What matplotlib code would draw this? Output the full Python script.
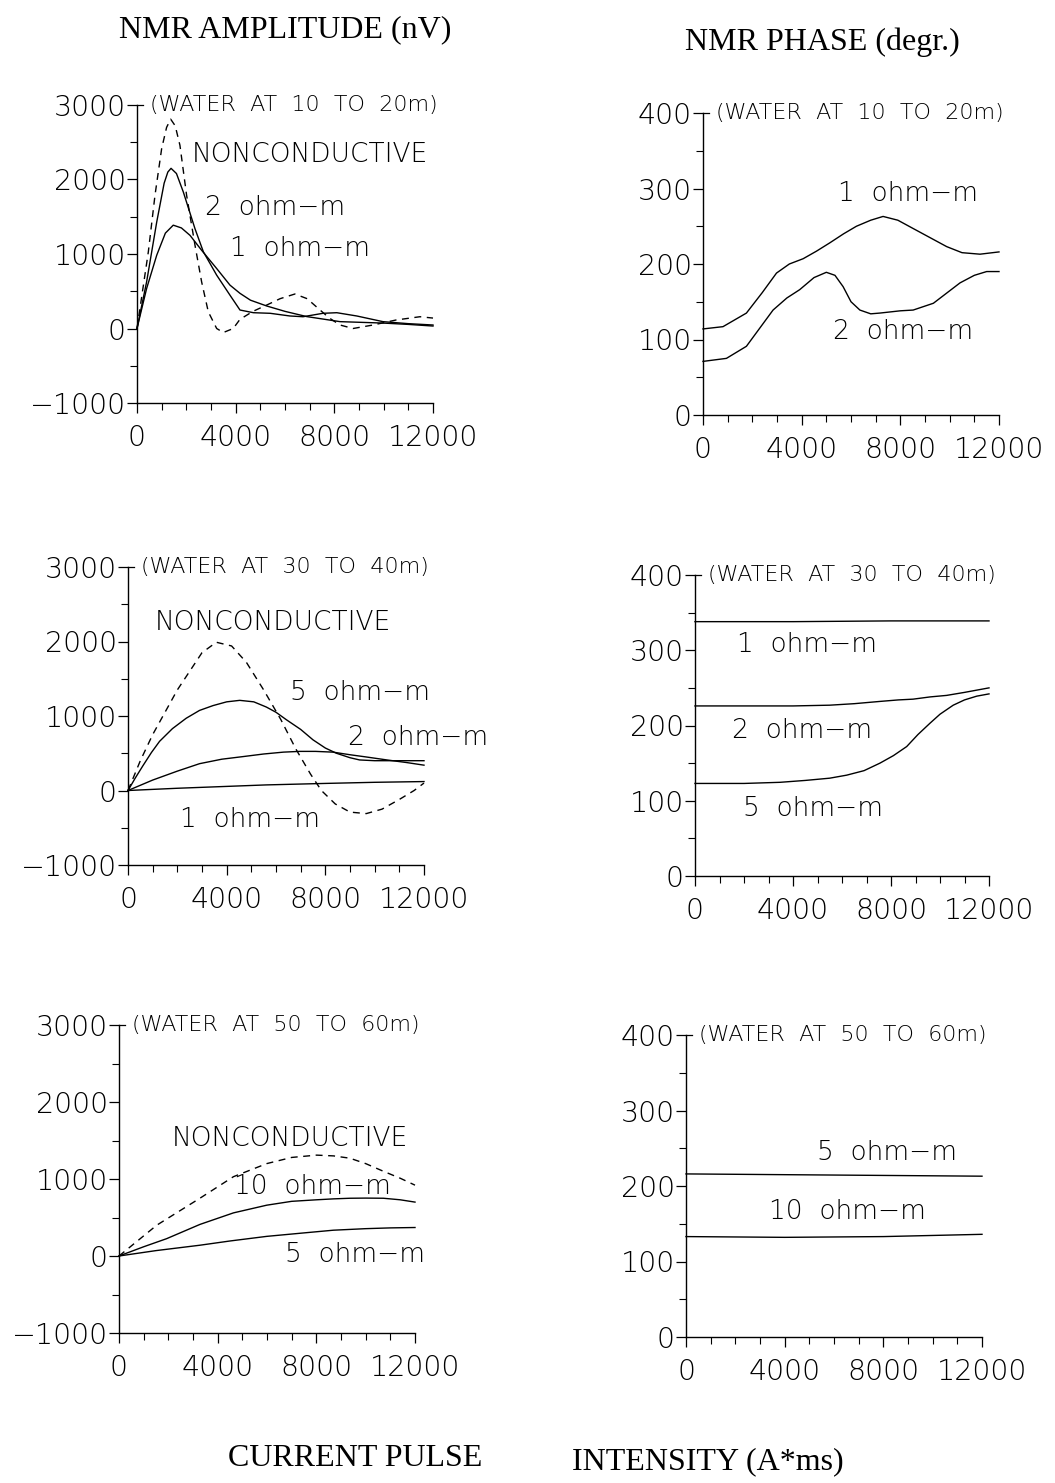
import numpy as np
import matplotlib.pyplot as plt
from matplotlib.ticker import MultipleLocator

# ---- data ----
# top row: water at 10 to 20 m
amp1_nc_x = [0, 250, 460, 730, 1000, 1200, 1365, 1550, 1740, 2010, 2350, 2620, 2890, 3230,
             3500, 3900, 4175, 4700, 5260, 5800, 6400, 6900, 7420, 7800, 8230, 8760, 9570,
             10500, 11470, 12000]
amp1_nc_y = [0, 560, 1030, 1790, 2416, 2700, 2810, 2720, 2460, 1790, 1120, 626, 224, 0,
             -54, 0, 123, 230, 315, 400, 463, 400, 248, 140, 47, 0, 47,
             114, 158, 140]
amp1_r2_x = [0, 390, 800, 1100, 1250, 1380, 1600, 1880, 2350, 2690, 3230, 3770, 4175, 4720,
             5400, 6200, 6730, 7540, 8100, 8910, 9970, 11000, 12000]
amp1_r2_y = [0, 626, 1430, 1950, 2100, 2150, 2080, 1830, 1340, 1030, 716, 447, 248, 212,
             204, 168, 158, 204, 212, 168, 92, 65, 47]
amp1_r1_x = [0, 390, 800, 1150, 1470, 1800, 2150, 2620, 3230, 3770, 4175, 4600, 5260, 6000,
             6880, 8230, 9970, 11000, 12000]
amp1_r1_y = [0, 537, 984, 1280, 1387, 1350, 1250, 1050, 805, 582, 472, 380, 302, 230,
             160, 92, 73, 55, 33]

ph1_r1_x = [0, 810, 1760, 2400, 2980, 3500, 4060, 4600, 5140, 5700, 6220, 6800, 7300, 7900,
            8520, 9200, 9880, 10500, 11230, 12000]
ph1_r1_y = [114, 117, 135, 162, 188, 200, 207, 217, 228, 240, 250, 258, 263, 258,
            247, 235, 223, 215, 213, 216]
ph1_r2_x = [0, 950, 1760, 2300, 2840, 3400, 3920, 4500, 5000, 5350, 5680, 6000, 6360, 6800,
            7170, 8000, 8520, 9340, 9900, 10420, 11000, 11500, 12000]
ph1_r2_y = [71, 75, 91, 115, 139, 155, 166, 182, 189, 185, 170, 150, 139, 134,
            135, 138, 139, 148, 162, 175, 185, 190, 190]

# middle row: water at 30 to 40 m
amp2_nc_x = [0, 500, 1000, 1550, 2000, 2360, 3000, 3580, 4200, 4800, 5500, 6200, 6800, 7400,
             7840, 8400, 9000, 9660, 10300, 11000, 11600, 12000]
amp2_nc_y = [0, 400, 750, 1080, 1350, 1530, 1850, 1990, 1940, 1720, 1350, 950, 560, 220,
             0, -180, -290, -310, -250, -120, 0, 100]
amp2_r5_x = [0, 300, 600, 950, 1280, 1800, 2360, 2900, 3450, 4000, 4530, 5100, 5610, 6000,
             6420, 7000, 7500, 8000, 8450, 9000, 9390, 10000, 11000, 12000]
amp2_r5_y = [0, 170, 330, 510, 660, 830, 970, 1075, 1140, 1190, 1210, 1190, 1120, 1050,
             950, 820, 680, 570, 500, 440, 410, 400, 400, 400]
amp2_r2_x = [0, 1000, 2000, 2900, 3800, 4660, 5500, 6300, 6960, 7600, 8310, 9000, 9660,
             10500, 11300, 12000]
amp2_r2_y = [0, 140, 260, 360, 420, 455, 490, 515, 525, 525, 515, 480, 450, 410, 375, 340]
amp2_r1_x = [0, 2000, 4000, 5600, 8000, 10000, 12000]
amp2_r1_y = [0, 30, 55, 75, 95, 110, 120]

ph2_r1_x = [0, 4000, 8000, 12000]
ph2_r1_y = [338, 338, 339, 339]
ph2_r2_x = [0, 2000, 4000, 5500, 6500, 7550, 8300, 8900, 9600, 10270, 11000, 12000]
ph2_r2_y = [226, 226, 226, 227, 229, 232, 234, 235, 238, 240, 244, 250]
ph2_r5_x = [0, 2000, 3470, 4500, 5500, 6190, 6900, 7550, 8100, 8640, 9100, 9590, 10000,
            10540, 11000, 11500, 12000]
ph2_r5_y = [123, 123, 124.5, 127, 130, 134, 140, 150, 160, 172, 188, 203, 215,
            227, 234, 239, 242]

# bottom row: water at 50 to 60 m
amp3_nc_x = [0, 1530, 3280, 4640, 5990, 7000, 8010, 8700, 9360, 10000, 10720, 11400, 12000]
amp3_nc_y = [0, 400, 750, 1030, 1200, 1280, 1310, 1300, 1270, 1200, 1100, 1010, 920]
amp3_r10_x = [0, 1000, 1930, 3280, 4640, 5990, 7000, 8010, 8700, 9360, 10000, 10720, 11400, 12000]
amp3_r10_y = [0, 120, 225, 410, 560, 660, 710, 730, 742, 750, 752, 750, 730, 700]
amp3_r5_x = [0, 1500, 3280, 4500, 5990, 7500, 8690, 10000, 11000, 12000]
amp3_r5_y = [0, 70, 140, 195, 255, 300, 335, 355, 365, 370]

ph3_r5_x = [0, 4000, 8000, 12000]
ph3_r5_y = [216, 215, 214, 213]
ph3_r10_x = [0, 4000, 8000, 12000]
ph3_r10_y = [133, 132, 133, 136]

x_ticks = [0, 4000, 8000, 12000]
amp_ticks = [-1000, 0, 1000, 2000, 3000]
ph_ticks = [0, 100, 200, 300, 400]

W, H = 1055, 1483
fig = plt.figure(figsize=(W / 100, H / 100), dpi=100)

LBL = dict(fontsize=19, family='DejaVu Sans', weight='light', ha='center', va='center')
DASH = (0, (5, 4))


def panel(x0, x1, ytop, ybot, ylim, yticks, yminor, water):
    ax = fig.add_axes([x0 / W, 1 - ybot / H, (x1 - x0) / W, (ybot - ytop) / H])
    ax.set_xlim(0, 12000)
    ax.set_ylim(*ylim)
    ax.spines['top'].set_visible(False)
    ax.spines['right'].set_visible(False)
    ax.spines['left'].set_linewidth(1.0)
    ax.spines['bottom'].set_linewidth(1.0)
    ax.set_xticks(x_ticks)
    ax.set_yticks(yticks)
    ax.set_yticklabels([f'{v:d}'.replace('-', '\u2212') for v in yticks])
    ax.xaxis.set_minor_locator(MultipleLocator(1000))
    ax.yaxis.set_minor_locator(MultipleLocator(yminor))
    ax.tick_params(which='major', length=7, width=0.9, labelsize=20.5, pad=1)
    ax.tick_params(axis='x', which='major', pad=8)
    ax.tick_params(which='minor', length=5, width=0.8)
    for lab in ax.get_xticklabels() + ax.get_yticklabels():
        lab.set_fontfamily('DejaVu Sans')
        lab.set_fontweight('light')
    ax.patch.set_alpha(0)
    # little stub at the top of the y axis
    ax.plot([0, 0.02], [1, 1], transform=ax.transAxes, color='k', lw=0.9, clip_on=False)
    ax.text(0.045, 1.0, water, transform=ax.transAxes, fontsize=16, family='DejaVu Sans',
            weight='light', ha='left', va='center')
    return ax


def curve(ax, x, y, dashed=False):
    ax.plot(x, y, color='k', lw=1.0, linestyle=DASH if dashed else '-', clip_on=False)


# top-left
ax = panel(137, 433, 105, 403, (-1000, 3000), amp_ticks, 500, '(WATER  AT  10  TO  20m)')
curve(ax, amp1_nc_x, amp1_nc_y, True)
curve(ax, amp1_r2_x, amp1_r2_y)
curve(ax, amp1_r1_x, amp1_r1_y)
ax.text(7010, 2330, 'NONCONDUCTIVE', **LBL)
ax.text(5590, 1630, '2  ohm\u2212m', **LBL)
ax.text(6610, 1080, '1  ohm\u2212m', **LBL)

# top-right
ax = panel(703, 999, 113, 415, (0, 400), ph_ticks, 50, '(WATER  AT  10  TO  20m)')
curve(ax, ph1_r1_x, ph1_r1_y)
curve(ax, ph1_r2_x, ph1_r2_y)
ax.text(8310, 294, '1  ohm\u2212m', **LBL)
ax.text(8110, 110, '2  ohm\u2212m', **LBL)

# middle-left
ax = panel(128, 424, 567, 865, (-1000, 3000), amp_ticks, 500, '(WATER  AT  30  TO  40m)')
curve(ax, amp2_nc_x, amp2_nc_y, True)
curve(ax, amp2_r5_x, amp2_r5_y)
curve(ax, amp2_r2_x, amp2_r2_y)
curve(ax, amp2_r1_x, amp2_r1_y)
ax.text(5880, 2250, 'NONCONDUCTIVE', **LBL)
ax.text(9410, 1320, '5  ohm\u2212m', **LBL)
ax.text(11760, 705, '2  ohm\u2212m', **LBL)
ax.text(4950, -395, '1  ohm\u2212m', **LBL)

# middle-right
ax = panel(695, 989, 575, 876, (0, 400), ph_ticks, 50, '(WATER  AT  30  TO  40m)')
curve(ax, ph2_r1_x, ph2_r1_y)
curve(ax, ph2_r2_x, ph2_r2_y)
curve(ax, ph2_r5_x, ph2_r5_y)
ax.text(4570, 307, '1  ohm\u2212m', **LBL)
ax.text(4370, 194, '2  ohm\u2212m', **LBL)
ax.text(4820, 90, '5  ohm\u2212m', **LBL)

# bottom-left
ax = panel(119, 415, 1025, 1333, (-1000, 3000), amp_ticks, 500, '(WATER  AT  50  TO  60m)')
curve(ax, amp3_nc_x, amp3_nc_y, True)
curve(ax, amp3_r10_x, amp3_r10_y)
curve(ax, amp3_r5_x, amp3_r5_y)
ax.text(6930, 1530, 'NONCONDUCTIVE', **LBL)
ax.text(7860, 900, '10  ohm\u2212m', **LBL)
ax.text(9570, 15, '5  ohm\u2212m', **LBL)

# bottom-right
ax = panel(686, 982, 1035, 1337, (0, 400), ph_ticks, 50, '(WATER  AT  50  TO  60m)')
curve(ax, ph3_r5_x, ph3_r5_y)
curve(ax, ph3_r10_x, ph3_r10_y)
ax.text(8150, 245, '5  ohm\u2212m', **LBL)
ax.text(6530, 166, '10  ohm\u2212m', **LBL)

# headings
TITLE = dict(fontsize=23, family='Liberation Serif', ha='center', va='center')
fig.text(285 / W, 1 - 30 / H, 'NMR AMPLITUDE (nV)', **TITLE)
fig.text(822 / W, 1 - 42 / H, 'NMR PHASE (degr.)', **TITLE)
fig.text(355 / W, 1 - 1458 / H, 'CURRENT PULSE', **TITLE)
fig.text(708 / W, 1 - 1462 / H, 'INTENSITY (A*ms)', **TITLE)

fig.savefig('out.png', dpi=100, facecolor='white')
